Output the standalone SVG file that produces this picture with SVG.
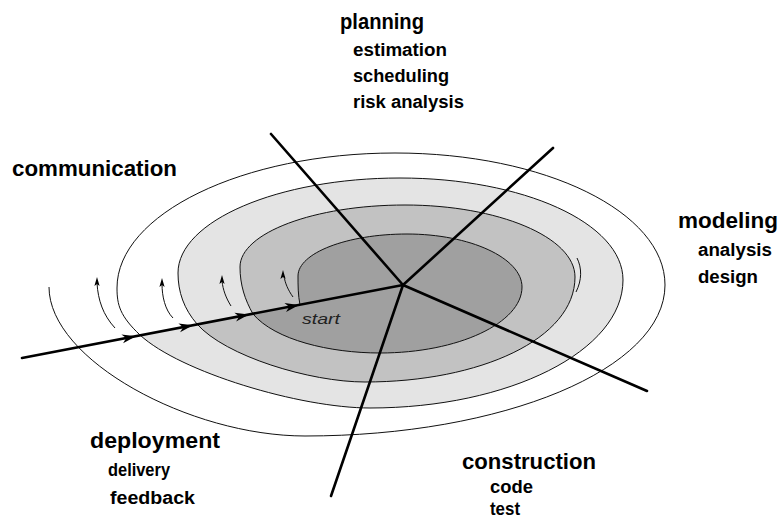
<svg xmlns="http://www.w3.org/2000/svg" width="779" height="520" viewBox="0 0 779 520">
<defs>
<style>
.lbl{font-family:"Liberation Sans",Arial,sans-serif;font-weight:bold;fill:#000;}
.h{font-size:22px;}
.s{font-size:18px;}
.thin{fill:none;stroke:#111;stroke-width:1;}
.spoke{fill:none;stroke:#000;stroke-width:2.6;stroke-linecap:round;}
.arr{fill:#000;}
</style>
<path id="ah" d="M0,0 L-14,-4.5 L-10,0 L-14,4.5 Z"/>
<path id="up" d="M0,0 L-2.6,9 L0,7 L2.6,9 Z"/>
</defs>
<rect width="779" height="520" fill="#fff"/>
<g id="rings">
<path fill="#e4e4e4" d="M197,324 C184,309 178,292 178,273 C178,221 278,178 400,178 C523,178 623,223 623,280 C623,351 509,408 370,408 C300,408 180,372 140,335 Z"/>
<path fill="#c2c2c2" d="M253,314 C245,300 240,285 240,267 C240,233 314,205 405,205 C498,205 575,237 575,277 C575,339 480,382 365,382 C310,382 225,356 197,324 Z"/>
<path fill="#a0a0a0" d="M300,305 C298,295 298,285 298,276 C298,253 347,234 407,234 C470,234 522,258 522,287 C522,323 458,353 380,353 C330,353 275,340 253,314 Z"/>
<path class="thin" d="M300,305 C298,295 298,285 298,276 C298,253 347,234 407,234 C470,234 522,258 522,287 C522,323 458,353 380,353 C330,353 275,340 253,314 C245,300 240,285 240,267 C240,233 314,205 405,205 C498,205 575,237 575,277 C575,339 480,382 365,382 C310,382 225,356 197,324 C184,309 178,292 178,273 C178,221 278,178 400,178 C523,178 623,223 623,280 C623,351 509,408 370,408 C300,408 180,372 140,335 C120,316 117,305 117,288 C117,214 243,153 395,153 C545,153 665,212 665,285 C665,369 503,436 305,436 C190,436 49,360 49,287"/>
<path class="thin" d="M577,258 C582,268 582,280 576,292"/>
</g>
<g id="direction-arcs">
<path class="thin" d="M115,328 C103,315 98,300 97,283"/>
<path class="thin" d="M173,318 C165,310 162,296 162,284"/>
<path class="thin" d="M231,306 C226,298 223,290 222,281"/>
<path class="thin" d="M293,297 C288,290 285,283 284,276"/>
<use href="#up" class="arr" transform="translate(97,277)"/>
<use href="#up" class="arr" transform="translate(162,278)"/>
<use href="#up" class="arr" transform="translate(222,275)"/>
<use href="#up" class="arr" transform="translate(283,270)"/>
</g>
<g id="connectors">
<line class="spoke" x1="271" y1="134" x2="403" y2="285"/>
<line class="spoke" x1="553" y1="148" x2="403" y2="285"/>
<line class="spoke" x1="647" y1="391" x2="403" y2="285"/>
<line class="spoke" x1="331" y1="496" x2="403" y2="285"/>
<line class="spoke" x1="22" y1="358" x2="403" y2="285" stroke-width="3.4"/>
<use href="#ah" class="arr" transform="translate(136,336.2) rotate(-10.85)"/>
<use href="#ah" class="arr" transform="translate(193,325.3) rotate(-10.85)"/>
<use href="#ah" class="arr" transform="translate(249,314.5) rotate(-10.85)"/>
<use href="#ah" class="arr" transform="translate(299,304.9) rotate(-10.85)"/>
</g>
<g id="start">
<text x="302" y="324" font-family="'Liberation Sans',Arial,sans-serif" font-style="italic" font-size="15" fill="#222" textLength="38" lengthAdjust="spacingAndGlyphs">start</text>
</g>
<g id="planning">
<text class="lbl h" x="340" y="29" textLength="84" lengthAdjust="spacingAndGlyphs">planning</text>
<text class="lbl s" x="353" y="56" textLength="94" lengthAdjust="spacingAndGlyphs">estimation</text>
<text class="lbl s" x="353" y="82" textLength="96" lengthAdjust="spacingAndGlyphs">scheduling</text>
<text class="lbl s" x="353" y="108" textLength="111" lengthAdjust="spacingAndGlyphs">risk analysis</text>
</g>
<g id="communication">
<text class="lbl h" x="12" y="176" textLength="165" lengthAdjust="spacingAndGlyphs">communication</text>
</g>
<g id="modeling">
<text class="lbl h" x="678" y="228" textLength="100" lengthAdjust="spacingAndGlyphs">modeling</text>
<text class="lbl s" x="698" y="256" textLength="74" lengthAdjust="spacingAndGlyphs">analysis</text>
<text class="lbl s" x="698" y="283" textLength="60" lengthAdjust="spacingAndGlyphs">design</text>
</g>
<g id="construction">
<text class="lbl h" x="462" y="469" textLength="134" lengthAdjust="spacingAndGlyphs">construction</text>
<text class="lbl s" x="490" y="493" textLength="43" lengthAdjust="spacingAndGlyphs">code</text>
<text class="lbl s" x="490" y="515" textLength="30" lengthAdjust="spacingAndGlyphs">test</text>
</g>
<g id="deployment">
<text class="lbl h" x="90" y="448" textLength="130" lengthAdjust="spacingAndGlyphs">deployment</text>
<text class="lbl s" x="108" y="476" textLength="62" lengthAdjust="spacingAndGlyphs">delivery</text>
<text class="lbl s" x="110" y="504" textLength="85" lengthAdjust="spacingAndGlyphs">feedback</text>
</g>
</svg>
